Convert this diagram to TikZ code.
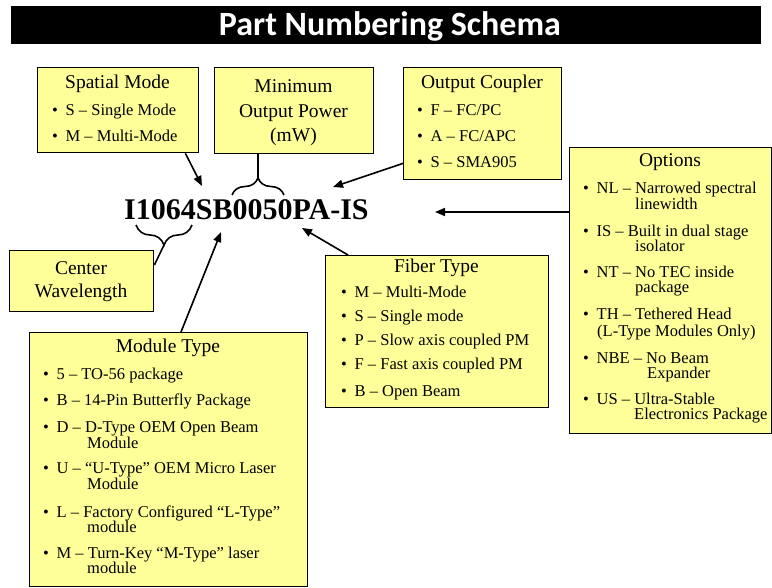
\documentclass[tikz,border=0pt]{standalone}
\usepackage{fontspec}
\setmainfont{Liberation Serif}
\newfontfamily\headfont{Carlito}
\usetikzlibrary{arrows.meta,decorations.pathreplacing}
\definecolor{boxyellow}{RGB}{255,255,153}
\newcommand{\itembul}{\makebox[13.5pt][l]{•}}

\begin{document}
\begin{tikzpicture}[x=1pt,y=-1pt,
    box/.style={draw=black, fill=boxyellow, line width=1.4pt, anchor=north west, inner sep=0pt},
    boxtitle/.style={anchor=base, inner sep=0pt, font=\fontsize{19.5}{22}\selectfont},
    item/.style={anchor=base west, inner sep=0pt, font=\fontsize{16.5}{18}\selectfont},
    conn/.style={line width=1.6pt, -{Triangle[length=10pt,width=8pt]}},
    curly/.style={line width=1.6pt, decorate, decoration={brace, amplitude=#1}}]
    \useasboundingbox (0,0) rectangle (772,588);

    \node[fill=black, anchor=north west, inner sep=0pt, minimum width=750pt, minimum height=38pt] (titlebar) at (11,6) {};
    \node[anchor=base, inner sep=0pt, text=white, font=\headfont\bfseries\fontsize{34}{34}\selectfont] (title) at (390,36) {Part Numbering Schema};

    \node[anchor=base west, inner sep=0pt, font=\bfseries\fontsize{30}{30}\selectfont] (pn) at (124,220) {I1064SB0050PA-IS};

    \node[box, minimum width=161pt, minimum height=85pt] (spatial) at (37,67) {};
    \node[boxtitle] (spatialhead) at (117.5,89) {Spatial Mode};
    \node[item] (sp1) at (52,116) {\itembul S – Single Mode};
    \node[item] (sp2) at (52,142) {\itembul M – Multi-Mode};

    \node[box, minimum width=159pt, minimum height=86pt] (power) at (214,67) {};
    \node[boxtitle] (pw1) at (293.5,93) {Minimum};
    \node[boxtitle] (pw2) at (293.5,118) {Output Power};
    \node[boxtitle] (pw3) at (293.5,142) {(mW)};

    \node[box, minimum width=158pt, minimum height=112pt] (coupler) at (403,67) {};
    \node[boxtitle] (couplerhead) at (482,89) {Output Coupler};
    \node[item] (oc1) at (417,116) {\itembul F – FC/PC};
    \node[item] (oc2) at (417,142) {\itembul A – FC/APC};
    \node[item] (oc3) at (417,168) {\itembul S – SMA905};

    \node[box, minimum width=202pt, minimum height=286pt] (options) at (569,147) {};
    \node[boxtitle] (optionshead) at (670,167) {Options};
    \node[item] (op1) at (583,194) {\itembul NL – Narrowed spectral};
    \node[item] (op1b) at (635,210) {linewidth};
    \node[item] (op2) at (583,237) {\itembul IS – Built in dual stage};
    \node[item] (op2b) at (635,252) {isolator};
    \node[item] (op3) at (583,278) {\itembul NT – No TEC inside};
    \node[item] (op3b) at (635,293) {package};
    \node[item] (op4) at (583,320) {\itembul TH – Tethered Head};
    \node[item] (op4b) at (597,337) {(L-Type Modules Only)};
    \node[item] (op5) at (583,363) {\itembul NBE – No Beam};
    \node[item] (op5b) at (647,378) {Expander};
    \node[item] (op6) at (583,405) {\itembul US – Ultra-Stable};
    \node[item] (op6b) at (634,420) {Electronics Package};

    \node[box, minimum width=144pt, minimum height=61pt] (wave) at (9,250) {};
    \node[boxtitle] (wv1) at (81,275) {Center};
    \node[boxtitle] (wv2) at (81,298) {Wavelength};

    \node[box, minimum width=278pt, minimum height=254pt] (module) at (29,332) {};
    \node[boxtitle] (modulehead) at (168,353) {Module Type};
    \node[item] (mt1) at (43,380) {\itembul 5 – TO-56 package};
    \node[item] (mt2) at (43,406) {\itembul B – 14-Pin Butterfly Package};
    \node[item] (mt3) at (43,432) {\itembul D – D-Type OEM Open Beam};
    \node[item] (mt3b) at (87,448) {Module};
    \node[item] (mt4) at (43,473) {\itembul U – “U-Type” OEM Micro Laser};
    \node[item] (mt4b) at (87,489) {Module};
    \node[item] (mt5) at (43,517) {\itembul L – Factory Configured “L-Type”};
    \node[item] (mt5b) at (87,532) {module};
    \node[item] (mt6) at (43,558) {\itembul M – Turn-Key “M-Type” laser};
    \node[item] (mt6b) at (87,573) {module};

    \node[box, minimum width=223pt, minimum height=152pt] (fiber) at (325,255) {};
    \node[boxtitle] (fiberhead) at (436.5,273) {Fiber Type};
    \node[item] (ft1) at (341,298) {\itembul M – Multi-Mode};
    \node[item] (ft2) at (341,322) {\itembul S – Single mode};
    \node[item] (ft3) at (341,346) {\itembul P – Slow axis coupled PM};
    \node[item] (ft4) at (341,370) {\itembul F – Fast axis coupled PM};
    \node[item] (ft5) at (341,396) {\itembul B – Open Beam};

    \coordinate (spatial-in) at (202,186);
    \coordinate (coupler-in) at (333,187);
    \coordinate (options-in) at (435,212);
    \coordinate (fiber-in) at (302,228);
    \coordinate (module-in) at (221,232);
    \coordinate (power-tip) at (258,178);
    \coordinate (wave-tip) at (164,245);

    \draw[conn] ([xshift=-14pt]spatial.south east) -- (spatial-in);
    \draw[conn] ([yshift=17pt]coupler.south west) -- (coupler-in);
    \draw[conn] ([yshift=-65pt]options.north west) -- (options-in);
    \draw[conn] ([xshift=23pt]fiber.north west) -- (fiber-in);
    \draw[conn] ([xshift=152pt]module.north west) -- (module-in);

    \draw[curly=17pt] (232,195) -- (284,195);
    \draw[line width=1.6pt] (power-tip) -- ([xshift=44pt]power.south west);
    \draw[curly=20pt] (192,225) -- (136,225);
    \draw[line width=1.6pt] (wave-tip) -- ([yshift=-15pt]wave.north east);
\end{tikzpicture}
\end{document}
